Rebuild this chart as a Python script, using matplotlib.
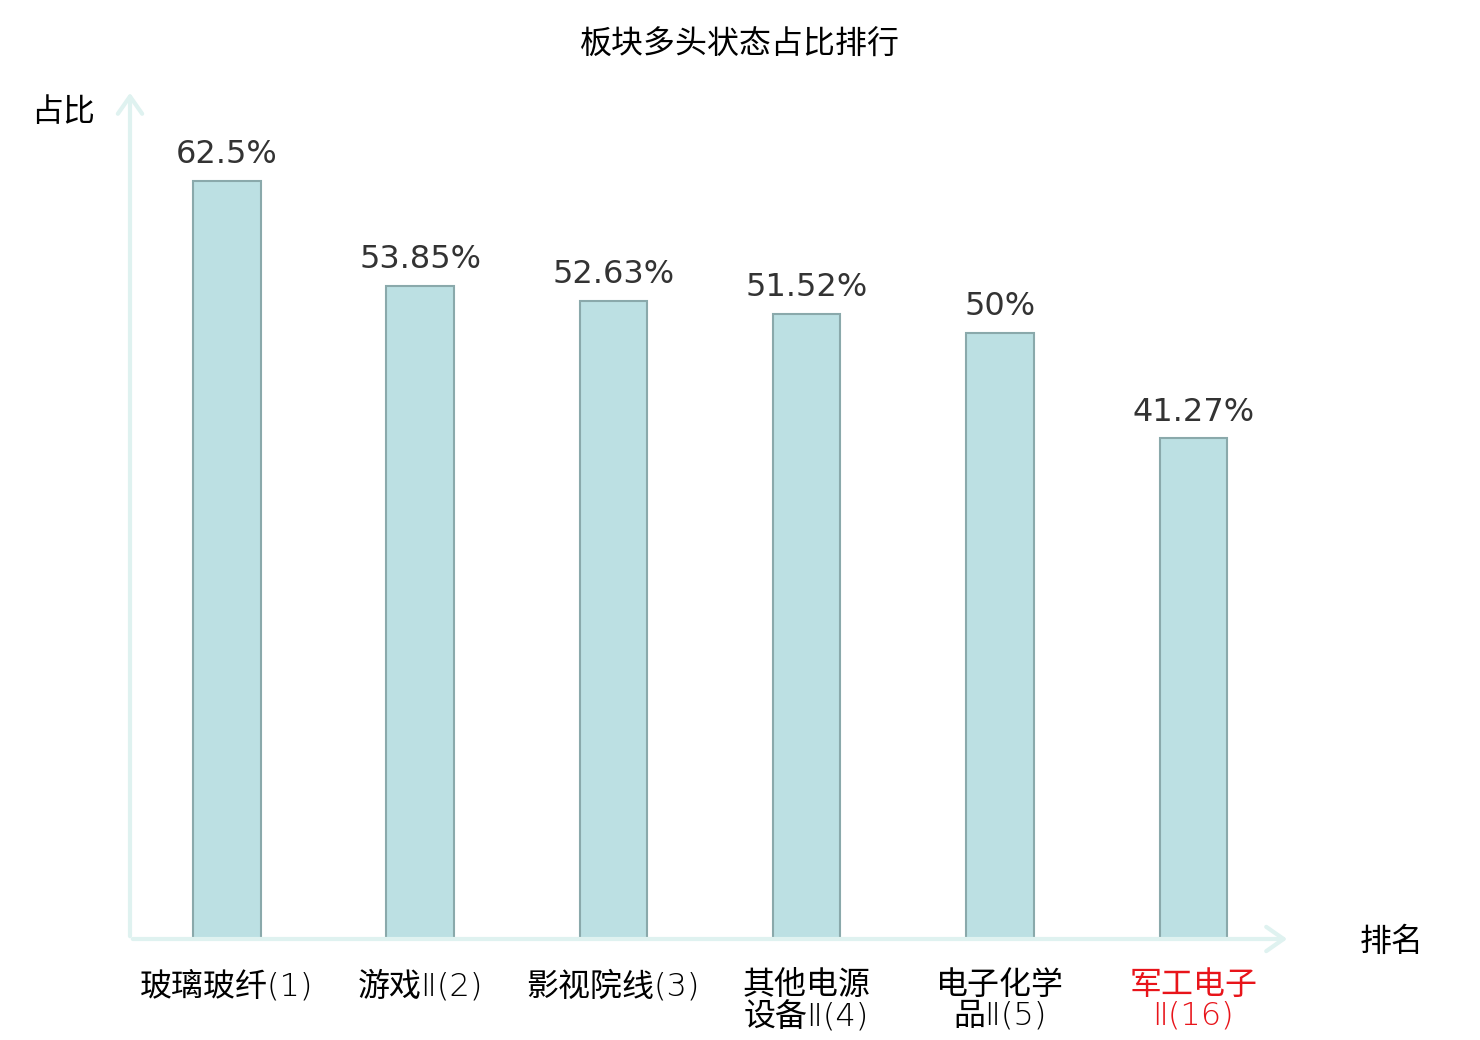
import matplotlib
matplotlib.use("Agg")
import matplotlib.pyplot as plt

plt.rcParams["font.family"] = ["Noto Sans CJK SC", "DejaVu Sans"]

categories = ["玻璃玻纤(1)", "游戏Ⅱ(2)", "影视院线(3)", "其他电源\n设备Ⅱ(4)", "电子化学\n品Ⅱ(5)", "军工电子\nⅡ(16)"]
values = [62.5, 53.85, 52.63, 51.52, 50.0, 41.27]
value_labels = ["62.5%", "53.85%", "52.63%", "51.52%", "50%", "41.27%"]
highlight = [False, False, False, False, False, True]

W, H = 1480, 1040
fig = plt.figure(figsize=(W / 100, H / 100), dpi=100)
ax = fig.add_axes([130 / W, (H - 939) / H, 1160 / W, (939 - 90) / H])

x = range(len(categories))
ax.bar(x, values, width=0.35, color="#bce0e3", edgecolor="#8aa9ab", linewidth=1.5, zorder=2)
for i, (v, lab) in enumerate(zip(values, value_labels)):
    ax.text(i, v + 0.9, lab, ha="center", va="bottom", fontsize=23,
            family="DejaVu Sans", color="#333333")

ax.set_xlim(-0.5, 5.5)
ax.set_ylim(0, 70)
ax.set_yticks([])
ax.set_xticks(list(x))
ax.set_xticklabels(categories, fontsize=23, linespacing=1.06,
                   family=["DejaVu Sans", "Noto Sans CJK SC"], fontweight="light")
ax.tick_params(axis="x", length=0, pad=22)
for t, hl in zip(ax.get_xticklabels(), highlight):
    if hl:
        t.set_color("#e8141a")
for s in ax.spines.values():
    s.set_visible(False)

# axis arrows
arrow_col = "#dff2f0"
style = "->,head_length=0.5,head_width=0.35"
ax.annotate("", xy=(0, 1.0), xytext=(0, 0), xycoords="axes fraction",
            arrowprops=dict(arrowstyle=style, color=arrow_col, lw=3, mutation_scale=25))
ax.annotate("", xy=(1.0, 0), xytext=(0, 0), xycoords="axes fraction",
            arrowprops=dict(arrowstyle=style, color=arrow_col, lw=3, mutation_scale=25))

fig.text(740 / W, 1 - 45 / H, "板块多头状态占比排行", ha="center", va="center", fontsize=23)
fig.text(63 / W, 1 - 112 / H, "占比", ha="center", va="center", fontsize=23)
fig.text(1392 / W, 1 - 942 / H, "排名", ha="center", va="center", fontsize=23)

fig.savefig("out.png", dpi=100)
